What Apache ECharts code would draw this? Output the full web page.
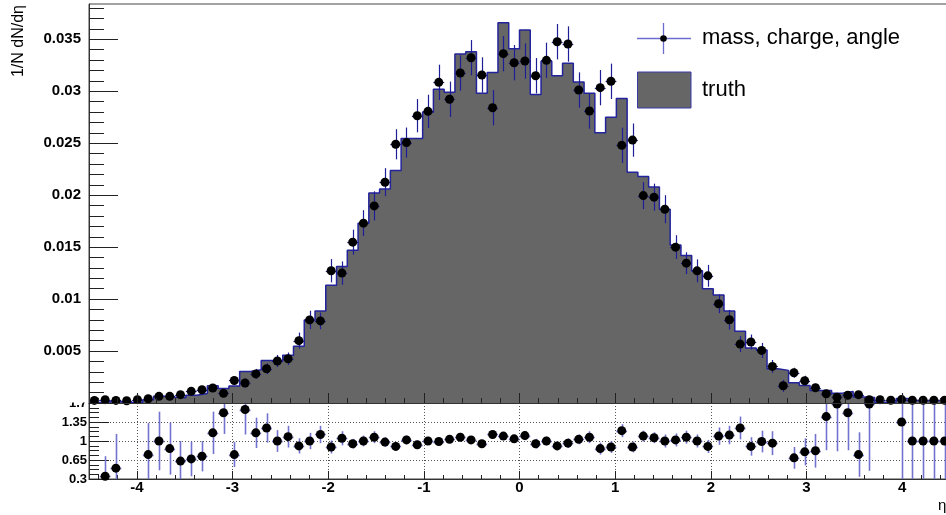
<!DOCTYPE html>
<html>
<head>
<meta charset="utf-8">
<script src="https://cdn.jsdelivr.net/npm/echarts@6/dist/echarts.min.js"></script>
<style>
  html, body { margin: 0; padding: 0; background: #fff; }
  #chart { width: 946px; height: 515px; }
</style>
</head>
<body>
<div id="chart"></div>
<script>
// Pseudorapidity binning: 80 bins from -4.5 to 4.5
const ETA_MIN = -4.5;
const ETA_MAX = 4.5;
const N_BINS = 80;

// Truth distribution, 1/N dN/deta per bin
const truthValues = [
  0.00006, 0.00011, 0.000125, 0.00006, 0.00008, 0.00031, 0.00064, 0.00055, 0.0005, 0.00075,
  0.00092, 0.00166, 0.0014, 0.00164, 0.00303, 0.00321, 0.00409, 0.00404, 0.0046, 0.00545,
  0.0080, 0.00886, 0.01133, 0.01313, 0.01471, 0.01731, 0.0202, 0.0206, 0.02238, 0.02545,
  0.02545, 0.02798, 0.0302, 0.0299, 0.0336, 0.0338, 0.0298, 0.0318, 0.0366, 0.0341,
  0.0359, 0.0297, 0.0329, 0.0315, 0.0327, 0.0309, 0.0298, 0.0260, 0.0275, 0.0293,
  0.0222, 0.0218, 0.0208, 0.01865, 0.0152, 0.0142, 0.01272, 0.0110, 0.0104, 0.00885,
  0.0069, 0.0053, 0.0051, 0.0033, 0.00314, 0.00195, 0.00168, 0.0012, 0.0012, 0.00095,
  0.0011, 0.00058, 0.00054, 0.00007, 0.00007, 0.00043, 0.00025, 0.00025, 0.00025, 0.00025
];

// Reconstructed (mass, charge, angle) distribution per bin
const recoValues = [
  0.00025, 0.00032, 0.00025, 0.00022, 0.00032, 0.00041, 0.00064, 0.00064, 0.0008, 0.00112,
  0.00128, 0.00144, 0.00093, 0.00217, 0.00192, 0.0028, 0.0033, 0.00404, 0.00426, 0.0060,
  0.0080, 0.0079, 0.01273, 0.0125, 0.01548, 0.01731, 0.01897, 0.02125, 0.0249, 0.02506,
  0.02765, 0.02807, 0.03086, 0.02923, 0.03176, 0.03323, 0.03157, 0.02842, 0.03362, 0.03275,
  0.03291, 0.0315, 0.03298, 0.03477, 0.03455, 0.03012, 0.0281, 0.03035, 0.03096, 0.0248,
  0.0253, 0.01996, 0.01981, 0.01865, 0.0150, 0.01346, 0.01272, 0.01224, 0.00955, 0.00801,
  0.00567, 0.00587, 0.00506, 0.00352, 0.00166, 0.00291, 0.00214, 0.00147, 0.00089, 0.00055,
  0.00075, 0.0008, 0.00032, 0.00032, 0.00026, 0.00033, 0.00026, 0.00026, 0.00027, 0.00027
];

// Statistical uncertainty of the reconstructed distribution
const recoErrors = [
  0.00012, 0.00012, 0.00012, 0.00012, 0.0006, 0.0002, 0.00025, 0.00025, 0.00025, 0.0003,
  0.0003, 0.0003, 0.0003, 0.00043, 0.00045, 0.00048, 0.00053, 0.00058, 0.0006, 0.00078,
  0.00088, 0.0008, 0.00112, 0.00112, 0.0012, 0.00125, 0.0014, 0.00135, 0.00145, 0.00145,
  0.0016, 0.0016, 0.0017, 0.0017, 0.0017, 0.0017, 0.0017, 0.0017, 0.0017, 0.0017,
  0.0017, 0.0017, 0.0017, 0.0017, 0.0017, 0.0017, 0.0017, 0.0017, 0.0017, 0.0017,
  0.0016, 0.0013, 0.0013, 0.00135, 0.00115, 0.00105, 0.0011, 0.00105, 0.0009, 0.00095,
  0.00077, 0.00072, 0.00072, 0.00062, 0.00058, 0.00048, 0.00048, 0.00038, 0.00038, 0.0003,
  0.0003, 0.0003, 0.0002, 0.0002, 0.0002, 0.0006, 0.0002, 0.0002, 0.0002, 0.0002
];

// Truth / reco ratio per bin (null: outside the displayed range)
const ratioValues = [
  null, 0.35, 0.50, null, null, 0.75, 1.00, 0.86, 0.63, 0.67,
  0.72, 1.15, 1.52, 0.75, 1.58, 1.15, 1.24, 1.00, 1.08, 0.91,
  1.00, 1.12, 0.89, 1.05, 0.95, 1.00, 1.07, 0.98, 0.90, 1.02,
  0.93, 1.00, 0.99, 1.03, 1.07, 1.02, 0.95, 1.12, 1.09, 1.04,
  1.10, 0.95, 1.00, 0.91, 0.96, 1.03, 1.07, 0.86, 0.89, 1.19,
  0.89, 1.09, 1.06, 1.00, 1.02, 1.07, 1.00, 0.90, 1.09, 1.11,
  1.24, 0.90, 0.99, 0.96, null, 0.69, 0.80, 0.82, 1.45, 1.68,
  1.52, 0.75, 1.68, null, null, 1.35, 1.00, 1.00, 1.00, 1.00
];

const ratioErrors = [
  null, 0.37, 0.63, null, null, 0.58, 0.54, 0.48, 0.37, 0.32,
  0.28, 0.39, 0.39, 0.23, 0.46, 0.28, 0.27, 0.20, 0.20, 0.14,
  0.15, 0.16, 0.12, 0.13, 0.09, 0.10, 0.11, 0.09, 0.08, 0.08,
  0.08, 0.07, 0.07, 0.07, 0.08, 0.07, 0.07, 0.07, 0.07, 0.07,
  0.086, 0.09, 0.08, 0.08, 0.09, 0.09, 0.11, 0.11, 0.11, 0.12,
  0.10, 0.10, 0.10, 0.12, 0.12, 0.12, 0.12, 0.12, 0.16, 0.17,
  0.21, 0.17, 0.20, 0.22, null, 0.20, 0.25, 0.31, 0.62, 0.87,
  0.69, 0.41, 1.23, null, null, 1.20, 1.00, 1.00, 1.00, 1.00
];

// Axis tick labels
const etaTickLabels = [-4, -3, -2, -1, 0, 1, 2, 3, 4];
const densityTickLabels = [0.005, 0.01, 0.015, 0.02, 0.025, 0.03, 0.035];
const ratioTickLabels = [0.3, 0.65, 1, 1.35, 1.7];

const FONT = 'Liberation Sans, Arial, Helvetica, sans-serif';

const binWidth = (ETA_MAX - ETA_MIN) / N_BINS;
const binCenters = truthValues.map((_, i) => ETA_MIN + (i + 0.5) * binWidth);
const binLowEdges = truthValues.map((_, i) => ETA_MIN + i * binWidth);

// step outline of the truth histogram: one point per low edge + closing edge
const truthStep = binLowEdges.map((x, i) => [x, truthValues[i]]);
truthStep.push([ETA_MAX, truthValues[truthValues.length - 1]]);

const recoPoints = binCenters.map((x, i) => [x, recoValues[i], recoErrors[i], binWidth / 2]);
const ratioPoints = binCenters
  .map((x, i) => [x, ratioValues[i], ratioErrors[i], binWidth / 2])
  .filter(p => p[1] !== null);

// minor tick positions
function stepsBetween(a, b, step, skip) {
  const out = [];
  const n = Math.round((b - a) / step);
  for (let k = 0; k <= n; k++) {
    const v = +(a + k * step).toFixed(6);
    if (!skip(v)) out.push(v);
  }
  return out;
}
const isInt = v => Math.abs(v - Math.round(v)) < 1e-6;
const etaMinor = stepsBetween(-4.4, 4.4, 0.2, isInt);
const densityMajorTicks = [0].concat(densityTickLabels);
const densityMinor = stepsBetween(0.001, 0.038, 0.001, v => Math.abs(v / 0.005 - Math.round(v / 0.005)) < 1e-6);
const ratioMinor = stepsBetween(0.3, 1.7, 0.0875, v => ratioTickLabels.some(t => Math.abs(t - v) < 1e-6));

function errorBars(color, width) {
  return function (params, api) {
    const x = api.value(0), y = api.value(1), e = api.value(2), hw = api.value(3);
    const c = api.coord([x, y]);
    const t = api.coord([x, y + e]);
    const b = api.coord([x, y - e]);
    const l = api.coord([x - hw, y]);
    const r = api.coord([x + hw, y]);
    const cx = Math.round(c[0]) + 0.5;
    const cy = Math.round(c[1]) + 0.5;
    return {
      type: 'group',
      children: [
        { type: 'line', shape: { x1: cx, y1: t[1], x2: cx, y2: b[1] }, style: { stroke: color, lineWidth: width } },
        { type: 'line', shape: { x1: l[0], y1: cy, x2: r[0], y2: cy }, style: { stroke: color, lineWidth: width } }
      ]
    };
  };
}

const GRID_LEFT = 89;
const GRID_WIDTH = 861;

const chart = echarts.init(document.getElementById('chart'), null, { renderer: 'canvas' });

// axes that only carry minor ticks
const hiddenAxisParts = {
  axisLine: { show: false, onZero: false },
  axisLabel: { show: false },
  splitLine: { show: false }
};

chart.setOption({
  animation: false,
  backgroundColor: '#ffffff',
  grid: [
    { left: GRID_LEFT, width: GRID_WIDTH, top: 4, height: 399, show: true, borderColor: '#444', borderWidth: 1, backgroundColor: 'transparent', outerBoundsMode: 'none', containLabel: false },
    { left: GRID_LEFT, width: GRID_WIDTH, top: 403, height: 76, show: true, borderColor: '#444', borderWidth: 1, backgroundColor: 'transparent', outerBoundsMode: 'none', containLabel: false }
  ],
  xAxis: [
    {
      gridIndex: 0, type: 'value', min: ETA_MIN, max: ETA_MAX, position: 'bottom', z: 10,
      axisLine: { show: true, onZero: false, lineStyle: { color: '#333', width: 1 } },
      axisTick: { show: true, inside: true, length: 10, customValues: etaTickLabels, lineStyle: { color: '#222' } },
      axisLabel: { show: false },
      splitLine: { show: false }
    },
    Object.assign({
      gridIndex: 0, type: 'value', min: ETA_MIN, max: ETA_MAX, position: 'bottom', z: 10,
      axisTick: { show: true, inside: true, length: 5, customValues: etaMinor, lineStyle: { color: '#222' } }
    }, hiddenAxisParts),
    {
      gridIndex: 1, type: 'value', min: ETA_MIN, max: ETA_MAX, position: 'bottom',
      axisLine: { show: true, onZero: false, lineStyle: { color: '#333', width: 1 } },
      axisTick: { show: true, inside: true, length: 8, customValues: etaTickLabels, lineStyle: { color: '#222' } },
      axisLabel: {
        show: true, customValues: etaTickLabels, margin: 1,
        fontFamily: FONT, fontWeight: 'bold', fontSize: 15, color: '#000'
      },
      splitLine: { show: true, lineStyle: { color: '#555', type: [1, 2], width: 1 } }
    },
    Object.assign({
      gridIndex: 1, type: 'value', min: ETA_MIN, max: ETA_MAX, position: 'bottom',
      axisTick: { show: true, inside: true, length: 4, customValues: etaMinor, lineStyle: { color: '#222' } }
    }, hiddenAxisParts)
  ],
  yAxis: [
    {
      gridIndex: 0, type: 'value', min: 0, max: 0.0384, position: 'left', z: 10,
      axisLine: { show: true, onZero: false, lineStyle: { color: '#333', width: 1 } },
      axisTick: { show: true, inside: true, length: 29, customValues: densityMajorTicks, lineStyle: { color: '#222' } },
      axisLabel: {
        show: true, customValues: densityTickLabels, margin: 8,
        fontFamily: FONT, fontWeight: 'bold', fontSize: 15, color: '#000',
        formatter: v => String(+v.toFixed(4))
      },
      splitLine: { show: false }
    },
    Object.assign({
      gridIndex: 0, type: 'value', min: 0, max: 0.0384, position: 'left', z: 10,
      axisTick: { show: true, inside: true, length: 15, customValues: densityMinor, lineStyle: { color: '#222' } }
    }, hiddenAxisParts),
    {
      gridIndex: 1, type: 'value', min: 0.3, max: 1.7, position: 'left',
      axisLine: { show: true, onZero: false, lineStyle: { color: '#333', width: 1 } },
      axisTick: { show: true, inside: true, length: 20, customValues: ratioTickLabels, lineStyle: { color: '#222' } },
      axisLabel: {
        show: true, customValues: ratioTickLabels, margin: 2,
        fontFamily: FONT, fontWeight: 'bold', fontSize: 13, color: '#000',
        formatter: v => String(+v.toFixed(3))
      },
      splitLine: { show: true, lineStyle: { color: '#555', type: [1, 2], width: 1 } }
    },
    Object.assign({
      gridIndex: 1, type: 'value', min: 0.3, max: 1.7, position: 'left',
      axisTick: { show: true, inside: true, length: 10, customValues: ratioMinor, lineStyle: { color: '#222' } }
    }, hiddenAxisParts)
  ],
  series: [
    {
      name: 'truth', type: 'line', xAxisIndex: 0, yAxisIndex: 0,
      data: truthStep, step: 'end', showSymbol: false, symbol: 'none', clip: true, z: 1,
      lineStyle: { color: '#23239b', width: 1.5 },
      areaStyle: { color: '#666666', opacity: 1, origin: 'start' }
    },
    {
      name: 'mass, charge, angle errors', type: 'custom', xAxisIndex: 0, yAxisIndex: 0,
      data: recoPoints, dimensions: ['x', 'y', 'err', 'hw'], encode: { x: 0, y: 1 },
      renderItem: errorBars('#1e1e96', 1.2), clip: true, z: 3
    },
    {
      name: 'mass, charge, angle', type: 'scatter', xAxisIndex: 0, yAxisIndex: 0,
      data: recoPoints.map(p => [p[0], p[1]]), symbol: 'circle', symbolSize: 9, z: 4,
      itemStyle: { color: '#000', opacity: 1 }, clip: true
    },
    {
      name: 'ratio errors', type: 'custom', xAxisIndex: 2, yAxisIndex: 2,
      data: ratioPoints, dimensions: ['x', 'y', 'err', 'hw'], encode: { x: 0, y: 1 },
      renderItem: errorBars('#7272cf', 1.6), clip: true, z: 3
    },
    {
      name: 'ratio', type: 'scatter', xAxisIndex: 2, yAxisIndex: 2,
      data: ratioPoints.map(p => [p[0], p[1]]), symbol: 'circle', symbolSize: 9, z: 4,
      itemStyle: { color: '#000', opacity: 1 }, clip: true
    }
  ],
  graphic: [
    // hide the upper half of the ratio pad's top label, under the main pad
    { type: 'rect', z: 100, shape: { x: 20, y: 392, width: 67, height: 10.5 }, style: { fill: '#fff' } },
    // legend
    { type: 'line', z: 100, shape: { x1: 637, y1: 38.5, x2: 691, y2: 38.5 }, style: { stroke: '#6b6bd0', lineWidth: 1.3 } },
    { type: 'line', z: 100, shape: { x1: 663.5, y1: 23, x2: 663.5, y2: 54 }, style: { stroke: '#6b6bd0', lineWidth: 1.3 } },
    { type: 'circle', z: 101, shape: { cx: 663.5, cy: 38.5, r: 3.3 }, style: { fill: '#000' } },
    { type: 'text', z: 100, x: 702, y: 37.5, style: { text: 'mass, charge, angle', font: '22px ' + FONT, fill: '#000', verticalAlign: 'middle', align: 'left' } },
    { type: 'rect', z: 100, shape: { x: 637.5, y: 72, width: 53.5, height: 36 }, style: { fill: '#666666', stroke: '#3a3aa8', lineWidth: 1 } },
    { type: 'text', z: 100, x: 702, y: 89.5, style: { text: 'truth', font: '22px ' + FONT, fill: '#000', verticalAlign: 'middle', align: 'left' } },
    // axis titles
    { type: 'text', z: 100, x: 19, y: 5, rotation: Math.PI / 2, style: { text: '1/N dN/d\u03b7', font: '16px ' + FONT, fill: '#000', align: 'right', verticalAlign: 'middle' } },
    { type: 'text', z: 100, x: 938, y: 506, style: { text: '\u03b7', font: '15px ' + FONT, fill: '#000', align: 'left', verticalAlign: 'middle' } }
  ]
});
</script>
</body>
</html>
